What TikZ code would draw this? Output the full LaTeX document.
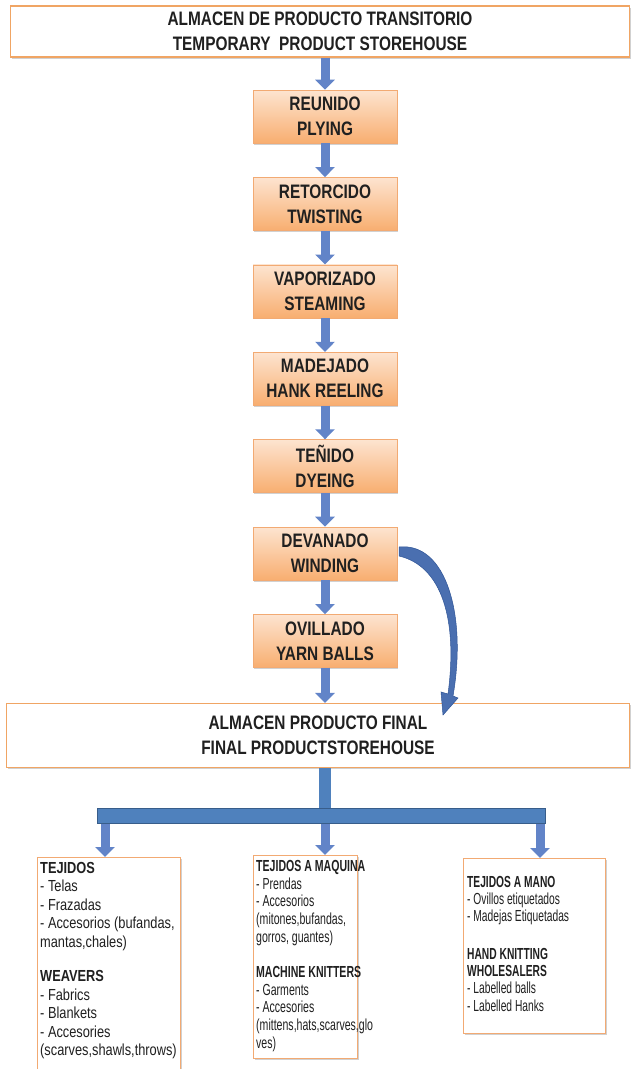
\documentclass[tikz,border=0pt]{standalone}
\usepackage{fontspec}
\setmainfont{Liberation Sans}[FakeStretch=0.84]
\newfontfamily\ttlfont{Liberation Sans}[FakeStretch=0.79]
\newfontfamily\leftfont{Liberation Sans}[FakeStretch=0.80]
\newfontfamily\midfont{Liberation Sans}[FakeStretch=0.66]
\newfontfamily\rightfont{Liberation Sans}[FakeStretch=0.64]
\usetikzlibrary{arrows.meta,shadows,calc}
\definecolor{boxborder}{RGB}{242,170,115}
\definecolor{titleborder}{RGB}{240,165,100}
\definecolor{proctop}{RGB}{253,228,208}
\definecolor{procbot}{RGB}{248,174,112}
\definecolor{arrowblue}{RGB}{98,132,200}
\definecolor{barblue}{RGB}{79,129,189}
\definecolor{bardark}{RGB}{56,93,138}
\definecolor{curveblue}{RGB}{74,111,176}
\definecolor{curvedark}{RGB}{47,85,151}
\definecolor{textdark}{RGB}{32,32,32}
\begin{document}
\begin{tikzpicture}[x=1pt,y=-1pt,
  softshadow/.style={drop shadow={shadow xshift=1.2pt,shadow yshift=-1.5pt,opacity=0.18,fill=black}},
  titlebox/.style={draw=titleborder,line width=1.1pt,fill=white,inner sep=0pt,align=center,
    font=\ttlfont\bfseries\fontsize{19.5}{25}\selectfont,text=textdark,softshadow},
  procbox/.style={draw=boxborder,line width=0.6pt,top color=proctop,bottom color=procbot,
    minimum width=144pt,minimum height=53pt,inner sep=0pt,align=center,
    font=\ttlfont\bfseries\fontsize{19.5}{25}\selectfont,text=textdark,softshadow},
  flowarr/.style={draw=arrowblue,line width=9pt,-{Triangle[width=19pt,length=10pt]}},
  outbox/.style={draw=boxborder,line width=1.1pt,fill=white,inner sep=0pt,anchor=north west,softshadow},
  outtext/.style={inner sep=0pt,anchor=north west,align=left,text=textdark},
]
\useasboundingbox (0,0) rectangle (631,1069);
\fill[white] (0,0) rectangle (631,1069);

% storehouses
\node[titlebox,minimum width=619pt,minimum height=51pt] (top) at (320,31.5)
  {ALMACEN DE PRODUCTO TRANSITORIO\\TEMPORARY\ \ PRODUCT STOREHOUSE};

% process steps
\node[procbox] (reunido)    at (325,116.5) {REUNIDO\\PLYING};
\node[procbox] (retorcido)  at (325,203.9) {RETORCIDO\\TWISTING};
\node[procbox] (vaporizado) at (325,291.3) {VAPORIZADO\\STEAMING};
\node[procbox] (madejado)   at (325,378.7) {MADEJADO\\HANK REELING};
\node[procbox] (tenido)     at (325,466.1) {TEÑIDO\\DYEING};
\node[procbox] (devanado)   at (325,553.5) {DEVANADO\\WINDING};
\node[procbox] (ovillado)   at (325,640.9) {OVILLADO\\YARN BALLS};

\node[titlebox,minimum width=623pt,minimum height=64pt] (final) at (318,735.5)
  {ALMACEN PRODUCTO FINAL\\FINAL PRODUCTSTOREHOUSE};

% arrows between steps
\draw[flowarr] (top.south -| reunido.north) -- (reunido.north);
\draw[flowarr] (reunido.south) -- (retorcido.north);
\draw[flowarr] (retorcido.south) -- (vaporizado.north);
\draw[flowarr] (vaporizado.south) -- (madejado.north);
\draw[flowarr] (madejado.south) -- (tenido.north);
\draw[flowarr] (tenido.south) -- (devanado.north);
\draw[flowarr] (devanado.south) -- (ovillado.north);
\draw[flowarr] (ovillado.south) -- (final.north -| ovillado.south);

% curved bypass arrow (winding -> final storehouse)
\filldraw[fill=curveblue,draw=curvedark,line width=0.5pt]
  (399,547) .. controls (446,542) and (467,615) .. (453,696)
  -- (458,698) -- (443,715) -- (441,692) -- (448,694)
  .. controls (458,620) and (442,566) .. (399,556) -- cycle;

% distribution bar
\node[fill=barblue,draw=bardark,line width=0.5pt,minimum width=448pt,minimum height=15pt,inner sep=0pt]
  (bar) at (321,816) {};
\draw[barblue,line width=12pt] (final.south -| ovillado.south) -- (bar.north -| ovillado.south);

% output boxes
\node[outbox,minimum width=143pt,minimum height=230pt] (weav) at (37,857) {};
\node[outbox,minimum width=104pt,minimum height=203pt] (mach) at (253,855) {};
\node[outbox,minimum width=142pt,minimum height=175pt] (hand) at (463,858) {};

\coordinate (xl) at (105,0);
\coordinate (xm) at (325,0);
\coordinate (xr) at (540,0);
\draw[flowarr] (bar.south -| xl) -- (weav.north -| xl);
\draw[flowarr] (bar.south -| xm) -- (mach.north -| xm);
\draw[flowarr] (bar.south -| xr) -- (hand.north -| xr);

\node[outtext,font=\leftfont\fontsize{16}{18.5}\selectfont] (weavtxt) at (40,862)
  {\textbf{TEJIDOS}\\- Telas\\- Frazadas\\- Accesorios (bufandas,\\mantas,chales)\\[16pt]
   \textbf{WEAVERS}\\- Fabrics\\- Blankets\\- Accesories\\(scarves,shawls,throws)};
\node[outtext,font=\midfont\fontsize{16}{17.8}\selectfont] (machtxt) at (256,860)
  {\textbf{TEJIDOS A MAQUINA}\\- Prendas\\- Accesorios\\(mitones,bufandas,\\gorros, guantes)\\[17pt]
   \textbf{MACHINE KNITTERS}\\- Garments\\- Accesories\\(mittens,hats,scarves,glo\\ves)};
\node[outtext,font=\rightfont\fontsize{16}{17.3}\selectfont] (handtxt) at (467,876)
  {\textbf{TEJIDOS A MANO}\\- Ovillos etiquetados\\- Madejas Etiquetadas\\[20pt]
   \textbf{HAND KNITTING}\\\textbf{WHOLESALERS}\\- Labelled balls\\- Labelled Hanks};
\end{tikzpicture}
\end{document}
